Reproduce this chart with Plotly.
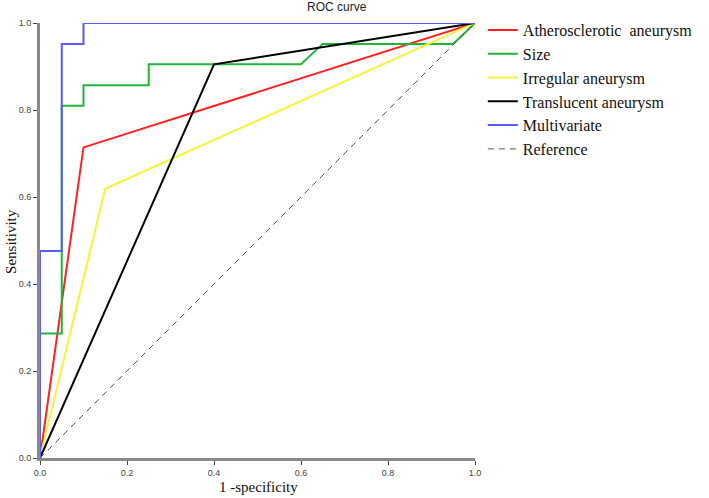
import plotly.graph_objects as go

# ROC curve points (1 - specificity, sensitivity)
ath_x = [0, 0.10, 1]
ath_y = [0, 0.714, 1]

size_x = [0, 0, 0.05, 0.05, 0.10, 0.10, 0.25, 0.25, 0.60, 0.65, 0.95, 1]
size_y = [0, 0.286, 0.286, 0.810, 0.810, 0.857, 0.857, 0.905, 0.905, 0.952, 0.952, 1]

irr_x = [0, 0.15, 1]
irr_y = [0, 0.619, 1]

tra_x = [0, 0.40, 1]
tra_y = [0, 0.905, 1]

mul_x = [0, 0, 0.05, 0.05, 0.10, 0.10, 1]
mul_y = [0, 0.476, 0.476, 0.952, 0.952, 1, 1]

ref_x = [0, 1]
ref_y = [0, 1]

series = [
    ("Atherosclerotic  aneurysm", ath_x, ath_y, "#ff2020", "solid"),
    ("Size", size_x, size_y, "#22b43a", "solid"),
    ("Irregular aneurysm", irr_x, irr_y, "#f4f43a", "solid"),
    ("Translucent aneurysm", tra_x, tra_y, "#000000", "solid"),
    ("Multivariate", mul_x, mul_y, "#5a5aff", "solid"),
    ("Reference", ref_x, ref_y, "#555555", "dash"),
]

serif = "Liberation Serif, Times New Roman"
sans = "Liberation Sans, Arial"

fig = go.Figure()
for name, x, y, color, dash in series:
    fig.add_trace(go.Scatter(
        x=x, y=y, mode="lines", name=name,
        line=dict(color=color, width=1 if dash == "dash" else 2,
                  dash="6px,5px" if dash == "dash" else "solid"),
    ))

fig.update_layout(
    width=709, height=498,
    margin=dict(l=40, r=234, t=23, b=40, autoexpand=False),
    plot_bgcolor="white", paper_bgcolor="white",
    title=dict(text="ROC curve", x=0.475, xref="container", xanchor="center",
               y=0.995, yref="container", yanchor="top",
               font=dict(family=sans, size=12, color="#222")),
    legend=dict(x=1.018, y=1.023, xanchor="left", yanchor="top",
                font=dict(family=serif, size=16, color="#111"),
                tracegroupgap=0, itemwidth=30, bgcolor="rgba(0,0,0,0)"),
    showlegend=True,
)

# axis titles as annotations so they sit as close as in the original
fig.add_annotation(text="1 -specificity", xref="paper", yref="paper",
                   x=0.502, y=-0.0667, xanchor="center", yanchor="middle",
                   showarrow=False, font=dict(family=serif, size=15, color="#111"))
fig.add_annotation(text="Sensitivity", xref="paper", yref="paper",
                   x=-0.0667, y=0.499, xanchor="center", yanchor="middle", textangle=-90,
                   showarrow=False, font=dict(family=serif, size=15, color="#111"))

axis_common = dict(
    range=[0, 1], tickvals=[0, 0.2, 0.4, 0.6, 0.8, 1.0],
    ticktext=["0.0", "0.2", "0.4", "0.6", "0.8", "1.0"],
    showgrid=False, zeroline=False, showline=True, linecolor="#8a8a8a", linewidth=3,
    ticks="outside", ticklen=4, tickcolor="#444", tickwidth=1, automargin=False,
    tickfont=dict(family=sans, size=9, color="#444"),
)
fig.update_xaxes(**axis_common)
fig.update_yaxes(**axis_common)

# drop the default page margin so the figure sits at the window's corner
fig.write_html("out.html", config={"displayModeBar": False},
               post_script="document.body.style.margin='0';")
